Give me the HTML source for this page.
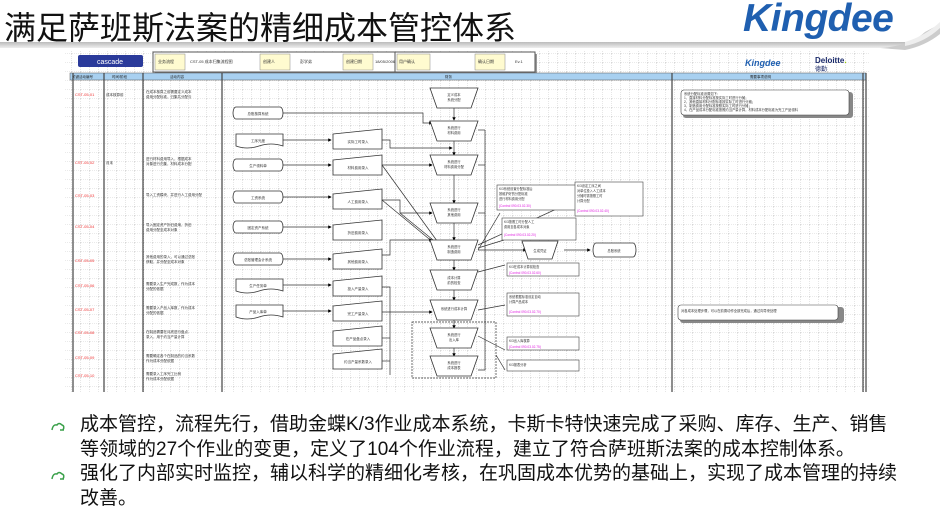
<!DOCTYPE html>
<html><head><meta charset="utf-8"><style>
html,body{margin:0;padding:0;background:#fff;}
body{width:940px;height:524px;position:relative;overflow:hidden;font-family:"Liberation Sans","Noto Sans CJK SC",sans-serif;}
.title{position:absolute;left:4px;top:3px;font-size:32px;color:#111;letter-spacing:0px;}
.logo{position:absolute;left:743px;top:-3px;font-size:39px;font-weight:bold;font-style:italic;color:#1f5fb0;letter-spacing:-0.5px;}
.txt{position:absolute;left:80px;font-size:19px;color:#111;line-height:25px;width:820px;}
.bul{position:absolute;left:50px;width:16px;height:12px;}
</style></head><body>
<div class="title">满足萨班斯法案的精细成本管控体系</div>
<div class="logo">Kingdee</div>
<svg style="position:absolute;left:0;top:0" width="940" height="60">
<defs><linearGradient id="g1" x1="0" y1="0" x2="0" y2="1"><stop offset="0" stop-color="#bbb"/><stop offset="1" stop-color="#eee"/></linearGradient></defs>
<rect x="0" y="42" width="905" height="6" fill="url(#g1)"/>
<path d="M880 48 Q910 46 925 32 L940 24 L940 34 Q925 46 905 50 Z" fill="#ccc"/>
<path d="M905 42 Q925 36 940 22 L940 28 Q925 42 905 46Z" fill="#eee"/>
</svg>
<svg style="position:absolute;left:0;top:0" width="940" height="400" font-family="Liberation Sans,Noto Sans CJK SC,sans-serif">
<defs>
<pattern id="grid" width="9" height="9" patternUnits="userSpaceOnUse"><path d="M9 0V9M0 9H9" stroke="#aaa" stroke-width="0.6" stroke-dasharray="1,1" fill="none"/></pattern>
<marker id="ar" markerWidth="5" markerHeight="5" refX="4" refY="2.5" orient="auto"><path d="M0 0L5 2.5L0 5Z" fill="#000"/></marker>
</defs>
<rect x="65" y="50" width="805" height="343" fill="#fff"/>
<rect x="65" y="50" width="805" height="343" fill="url(#grid)"/>
<rect x="78" y="55" width="65" height="12" rx="2" fill="#2a3a9a"/>
<text x="110" y="64" font-size="7" fill="#fff" text-anchor="middle">cascade</text>
<rect x="155" y="54" width="278" height="20" fill="#999"/>
<rect x="153" y="52" width="278" height="20" fill="#fff" stroke="#555" stroke-width="1"/>
<g fill="#fffbd0" stroke="#888" stroke-width="0.5">
<rect x="155" y="54" width="30" height="16"/><rect x="260" y="54" width="30" height="16"/><rect x="343" y="54" width="30" height="16"/><rect x="395" y="54" width="35" height="16"/><rect x="475" y="54" width="30" height="16"/>
</g>
<rect x="397" y="54" width="140" height="20" fill="#999"/>
<rect x="395" y="52" width="140" height="20" fill="#fff" stroke="#555"/>
<rect x="397" y="54" width="33" height="16" fill="#fffbd0" stroke="#888" stroke-width="0.5"/>
<rect x="475" y="54" width="30" height="16" fill="#fffbd0" stroke="#888" stroke-width="0.5"/>
<g font-size="4" fill="#333"><text x="158" y="63">业务流程</text><text x="190" y="63">CST-05 成本归集流程图</text><text x="263" y="63">创建人</text><text x="300" y="63">彭学弟</text><text x="346" y="63">创建日期</text><text x="375" y="63">18/05/2006</text><text x="399" y="63">用户确认</text><text x="478" y="63">确认日期</text><text x="515" y="63">Ev.1</text></g>
<text x="745" y="66" font-size="9" font-weight="bold" font-style="italic" fill="#1f5fb0">Kingdee</text>
<text x="815" y="63" font-size="8" font-weight="bold" fill="#1a2a6a">Deloitte<tspan fill="#9c0">.</tspan></text>
<text x="815" y="71" font-size="6" fill="#1a2a6a">德勤</text>
<rect x="70" y="73" width="796" height="7" fill="#a8d0f0" stroke="#555" stroke-width="0.5"/>
<g font-size="3.5" fill="#222"><text x="72" y="78">关键活动编号</text><text x="112" y="78">时间/阶段</text><text x="170" y="78">活动内容</text><text x="445" y="78">财务</text><text x="750" y="78">需要事项说明</text></g>
<g stroke="#444" stroke-width="1.2">
<line x1="73" y1="73" x2="73" y2="392"/><line x1="104" y1="73" x2="104" y2="392"/><line x1="143" y1="73" x2="143" y2="392"/><line x1="222" y1="73" x2="222" y2="392"/><line x1="672" y1="73" x2="672" y2="392"/><line x1="863" y1="73" x2="863" y2="392"/><line x1="866" y1="73" x2="866" y2="392"/>
</g>
<g font-size="4" fill="#e33">
<text x="75" y="96">CST-05-01</text><text x="75" y="164">CST-05-02</text><text x="75" y="197">CST-05-03</text><text x="75" y="228">CST-05-04</text><text x="75" y="262">CST-05-05</text><text x="75" y="287">CST-05-06</text><text x="75" y="311">CST-05-07</text><text x="75" y="334">CST-05-08</text><text x="75" y="359">CST-05-09</text><text x="75" y="377">CST-05-10</text>
</g>
<g font-size="3.5" fill="#333">
<text x="106" y="96">成本核算前</text><text x="106" y="164">月末</text>
<text x="146" y="93">在成本核算之前需要定义成本</text><text x="146" y="98">费用分配标准，归集共分配与</text>
<text x="146" y="160">进行材料费用导入，根据成本</text><text x="146" y="165">对象进行归集，材料成本分配</text>
<text x="146" y="196">导入工资模块，并进行人工费用分配</text>
<text x="146" y="226">导入固定资产折旧费用，折旧</text><text x="146" y="231">费用分配至成本对象</text>
<text x="146" y="258">其他费用的录入，可以通过总账</text><text x="146" y="263">获取，并分配至成本对象</text>
<text x="146" y="285">需要录入生产完成数，作为成本</text><text x="146" y="290">分配的依据</text>
<text x="146" y="309">需要录入产品入库数，作为成本</text><text x="146" y="314">分配的依据</text>
<text x="146" y="333">在制品需要在月底进行盘点</text><text x="146" y="338">录入，用于约当产量计算</text>
<text x="146" y="357">需要确定各个在制品的约当系数</text><text x="146" y="362">作为成本分配依据</text>
<text x="146" y="375">需要录入工序完工比例</text><text x="146" y="380">作为成本分配依据</text>
</g>
<g fill="#fff" stroke="#333" stroke-width="0.8">
<path d="M236 107h44a3 6 0 0 1 0 12h-44a3 6 0 0 1 0-12z"/>
<path d="M236 134h47v12q-12 -4 -24 0t-23 0z"/>
<path d="M236 159h44a3 6 0 0 1 0 12h-44a3 6 0 0 1 0-12z"/>
<path d="M236 191h44a3 6 0 0 1 0 12h-44a3 6 0 0 1 0-12z"/>
<path d="M236 221h44a3 6 0 0 1 0 12h-44a3 6 0 0 1 0-12z"/>
<path d="M236 253h44a3 6 0 0 1 0 12h-44a3 6 0 0 1 0-12z"/>
<path d="M236 279h47v12q-12 -4 -24 0t-23 0z"/>
<path d="M236 305h47v12q-12 -4 -24 0t-23 0z"/>
</g>
<g font-size="3.5" fill="#333" text-anchor="middle">
<text x="258" y="115">总账核算系统</text><text x="258" y="142">工序光度</text><text x="258" y="167">生产领料单</text><text x="258" y="199">工资系统</text><text x="258" y="229">固定资产系统</text><text x="258" y="261">总账管理会计系统</text><text x="258" y="287">生产任务单</text><text x="258" y="313">产品入库单</text>
</g>
<g fill="#fff" stroke="#333" stroke-width="0.8">
<path d="M333 134l49-5v20h-49z"/><path d="M333 160l49-5v20h-49z"/><path d="M333 194l49-5v20h-49z"/><path d="M333 225l49-5v20h-49z"/><path d="M333 254l49-5v20h-49z"/><path d="M333 281l49-5v20h-49z"/><path d="M333 306l49-5v20h-49z"/><path d="M333 331l49-5v20h-49z"/><path d="M333 354l49-5v20h-49z"/>
</g>
<g font-size="3.5" fill="#333" text-anchor="middle">
<text x="358" y="143">实际工时录入</text><text x="358" y="169">材料费用录入</text><text x="358" y="203">人工费用录入</text><text x="358" y="234">折旧费用录入</text><text x="358" y="263">其他费用录入</text><text x="358" y="290">投入产量录入</text><text x="358" y="315">完工产量录入</text><text x="358" y="340">在产品盘点录入</text><text x="358" y="363">约当产量系数录入</text>
</g>
<g stroke="#333" stroke-width="0.7" fill="none" marker-end="url(#ar)">
<path d="M283 113H423V123H432"/><path d="M283 140H331"/><path d="M283 165H331"/><path d="M283 197H331"/><path d="M283 227H331"/><path d="M283 259H331"/><path d="M283 285H331"/><path d="M283 311H331"/>
<path d="M382 140H390V148H452"/><path d="M382 165H432"/><path d="M382 200H400V213H432"/><path d="M382 165L440 245"/><path d="M382 200L440 248"/><path d="M400 213L438 244"/>
<path d="M382 255H390V240H432"/><path d="M382 312H432"/>
<path d="M454 108V120"/><path d="M454 141V155"/><path d="M454 175V203"/><path d="M454 223V240"/><path d="M454 260V270"/><path d="M454 290V300"/><path d="M454 320V328"/><path d="M454 348V356"/>
<path d="M478 250H526"/><path d="M564 250H590"/>
</g>
<g stroke="#333" stroke-width="0.7" fill="none">
<path d="M382 287H390V375"/><path d="M382 338H390"/><path d="M382 361H390"/>
<path d="M485 130V370H478"/><path d="M478 130H485"/><path d="M478 165H485"/><path d="M478 213H485"/>
<rect x="412" y="322" width="84" height="56" stroke-dasharray="2,1"/>
<path d="M478 250L500 213M478 245L576 200M478 248L504 240M478 272L505 265M478 310L505 305M478 336L505 350M496 355L505 370"/>
</g>
<g fill="#fff" stroke="#333" stroke-width="0.8">
<path d="M430 88h48l-7 20h-34z"/><path d="M430 121h48l-7 20h-34z"/><path d="M430 155h48l-7 20h-34z"/><path d="M430 203h48l-7 20h-34z"/><path d="M430 240h48l-7 20h-34z"/><path d="M430 270h48l-7 20h-34z"/><path d="M430 300h48l-7 20h-34z"/><path d="M430 328h48l-7 20h-34z"/><path d="M430 356h48l-7 20h-34z"/>
<path d="M522 241h36l-6 18h-24z"/>
<path d="M596 243h37a3 7 0 0 1 0 14h-37a3 7 0 0 1 0-14z"/>
</g>
<g font-size="3.3" fill="#333" text-anchor="middle">
<text x="454" y="96">定义成本</text><text x="454" y="101">系统分配</text>
<text x="454" y="129">系统进行</text><text x="454" y="134">材料费用</text>
<text x="454" y="163">系统进行</text><text x="454" y="168">材料费用分配</text>
<text x="454" y="211">系统进行</text><text x="454" y="216">其他费用</text>
<text x="454" y="248">系统进行</text><text x="454" y="253">制造费用</text>
<text x="454" y="279">成本计算</text><text x="454" y="284">前的检查</text>
<text x="454" y="310">系统进行成本计算</text>
<text x="454" y="336">系统进行</text><text x="454" y="341">出入库</text>
<text x="454" y="364">系统进行</text><text x="454" y="369">成本报表</text>
<text x="540" y="252">生成凭证</text><text x="614" y="252">总账系统</text>
</g>
<g fill="#fff" stroke="#444" stroke-width="0.6">
<rect x="497" y="185" width="80" height="25"/><rect x="575" y="182" width="68" height="34"/><rect x="502" y="218" width="74" height="22"/><rect x="507" y="263" width="72" height="13"/><rect x="507" y="293" width="72" height="23"/><rect x="507" y="337" width="72" height="13"/><rect x="507" y="360" width="72" height="11"/>
</g>
<g font-size="3.2" fill="#333">
<text x="499" y="190">K/3系统设置分配标准后</text><text x="499" y="195">按维护好的分配标准</text><text x="499" y="200">进行材料费用分配</text>
<text x="577" y="187">K/3设定工序之间</text><text x="577" y="192">对单位投入人工成本</text><text x="577" y="197">分摊时需按照工时</text><text x="577" y="202">计算分配</text>
<text x="504" y="223">K/3按照工时分配人工</text><text x="504" y="228">费用至各成本对象</text>
<text x="509" y="268">K/3在成本计算前检查</text>
<text x="509" y="298">系统根据标准设定自动</text><text x="509" y="303">计算产品成本</text>
<text x="509" y="342">K/3出入库核算</text>
<text x="509" y="366">K/3报表分析</text>
</g>
<g font-size="3.2" fill="#e020e0">
<text x="499" y="207">(Control 090.03.02.30)</text><text x="577" y="212">(Control 090.03.02.40)</text><text x="504" y="236">(Control 090.03.02.20)</text><text x="509" y="274">(Control 090.03.02.60)</text><text x="509" y="313">(Control 090.03.02.70)</text><text x="509" y="348">(Control 090.03.02.75)</text>
</g>
<g fill="#888"><rect x="683" y="92" width="170" height="26" rx="3"/><rect x="680" y="307" width="164" height="16" rx="3"/></g>
<g fill="#fff" stroke="#444" stroke-width="0.6"><rect x="681" y="90" width="168" height="25" rx="3"/><rect x="678" y="305" width="160" height="15" rx="3"/></g>
<g font-size="3.3" fill="#333">
<text x="684" y="95">系统分配标准设置如下：</text><text x="684" y="99">1、直接材料分配标准按实际工时进行分摊；</text><text x="684" y="103">2、其他直接材料分配标准按实际工时进行分摊；</text><text x="684" y="107">3、制造费用分配标准按照实际工时进行分摊；</text><text x="684" y="111">4、在产品成本分配标准按照约当产量计算，材料成本分配标准为完工产品领料</text>
<text x="681" y="312">对各成本处理步骤，可以在前置动作全部完成后，通过向导来处理</text>
</g>
</svg>
<svg class="bul" style="top:421px" viewBox="0 0 16 12"><path d="M2 9 Q3 3 7 4 Q9 1 12 4 Q15 5 13 9 M10 9H14" fill="none" stroke="#3aa04a" stroke-width="1.5"/></svg>
<svg class="bul" style="top:470px" viewBox="0 0 16 12"><path d="M2 9 Q3 3 7 4 Q9 1 12 4 Q15 5 13 9 M10 9H14" fill="none" stroke="#3aa04a" stroke-width="1.5"/></svg>
<div class="txt" style="top:412px">成本管控，流程先行，借助金蝶K/3作业成本系统，卡斯卡特快速完成了采购、库存、生产、销售等领域的27个作业的变更，定义了104个作业流程，建立了符合萨班斯法案的成本控制体系。</div>
<div class="txt" style="top:461px">强化了内部实时监控，辅以科学的精细化考核，在巩固成本优势的基础上，实现了成本管理的持续改善。</div>
</body></html>
